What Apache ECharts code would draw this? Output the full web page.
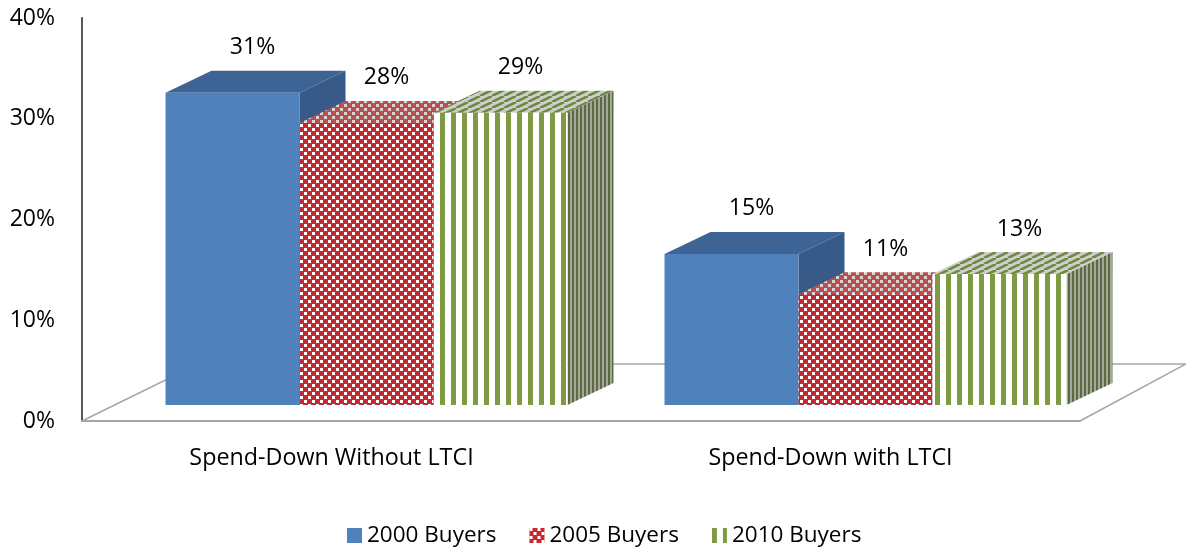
<!DOCTYPE html>
<html lang="en" style="height: 100%">

<head>
  <meta charset="utf-8" />
</head>

<body style="height: 100%; margin: 0">
  <div id="container" style="height: 548px; width: 1186px;"></div>

  <script type="text/javascript" src="https://cdn.jsdelivr.net/npm/echarts@6/dist/echarts.min.js"></script>

  <script type="text/javascript">
    // data
    var categories = ['Spend-Down Without LTCI', 'Spend-Down with LTCI'];
    var seriesNames = ['2000 Buyers', '2005 Buyers', '2010 Buyers'];
    var buyers2000 = [31, 15];
    var buyers2005 = [28, 11];
    var buyers2010 = [29, 13];
    var yTicks = [0, 10, 20, 30, 40];

    var FONT = "'Open Sans', sans-serif";
    var DEPTH_X = 46, DEPTH_Y = -22;   // 3d depth offset
    var SHIFT_X = 35, SHIFT_Y = -16;   // front face offset from axis
    var BAR_RATIO = 0.2685;

    // pattern helpers
    function tile(w, h, draw) {
      var c = document.createElement('canvas');
      c.width = w; c.height = h;
      draw(c.getContext('2d'));
      return { image: c, repeat: 'repeat' };
    }
    function checker(bg, fg) {
      return tile(8, 8, function (ctx) {
        ctx.fillStyle = bg; ctx.fillRect(0, 0, 8, 8);
        ctx.fillStyle = fg;
        ctx.fillRect(0, 0, 3, 3);
        ctx.fillRect(4, 4, 3, 3);
      });
    }
    function vstripes(period, on, bg, fg) {
      return tile(period, 2, function (ctx) {
        ctx.fillStyle = bg; ctx.fillRect(0, 0, period, 2);
        ctx.fillStyle = fg; ctx.fillRect(0, 0, on, 2);
      });
    }
    function diagStripes(bg, fg) {
      return tile(12, 6, function (ctx) {
        ctx.fillStyle = bg; ctx.fillRect(0, 0, 12, 6);
        ctx.strokeStyle = fg; ctx.lineWidth = 2.6;
        [-12, 0, 12].forEach(function (k) {
          ctx.beginPath(); ctx.moveTo(k, 6); ctx.lineTo(k + 12, 0); ctx.stroke();
        });
      });
    }

    var faces = [
      { front: '#4f81bd', top: '#3e6395', side: '#385a89' },
      { front: checker('#c62a30', '#ffffff'), top: checker('#b85050', '#dcd4d4'), side: checker('#8e3a3a', '#b8b0b0') },
      { front: vstripes(11, 5, '#ffffff', '#7e9b44'), top: diagStripes('#cfcfcf', '#6f8a3e'), side: vstripes(4, 2, '#a4a79a', '#5c6a42') }
    ];

    function barRenderer(idx) {
      return function (params, api) {
        var val = api.value(1);
        var base = api.coord([api.value(0), 0]);
        var top = api.coord([api.value(0), val]);
        var band = api.size([1, 0])[0];
        var w = band * BAR_RATIO;
        var x0 = base[0] - 1.5 * w + idx * w + SHIFT_X;
        var yb = base[1] + SHIFT_Y;
        var yt = top[1] + SHIFT_Y;
        var f = faces[idx];
        return {
          type: 'group',
          children: [
            {
              type: 'polygon',
              shape: { points: [[x0 + w, yt], [x0 + w + DEPTH_X, yt + DEPTH_Y], [x0 + w + DEPTH_X, yb + DEPTH_Y], [x0 + w, yb]] },
              style: { fill: f.side }
            },
            {
              type: 'polygon',
              shape: { points: [[x0, yt], [x0 + DEPTH_X, yt + DEPTH_Y], [x0 + w + DEPTH_X, yt + DEPTH_Y], [x0 + w, yt]] },
              style: { fill: f.top }
            },
            {
              type: 'rect',
              shape: { x: x0, y: yt, width: w, height: yb - yt },
              style: { fill: f.front }
            },
            {
              type: 'text',
              x: x0 + w / 2 + DEPTH_X / 2 - 3,
              y: yt + DEPTH_Y - 23,
              style: {
                text: val + '%', fill: '#000', font: '23px ' + FONT,
                align: 'center', verticalAlign: 'middle'
              }
            }
          ]
        };
      };
    }

    function floorRenderer(params, api) {
      var cs = params.coordSys;
      var bl = [cs.x, cs.y + cs.height];
      var br = [cs.x + cs.width, cs.y + cs.height];
      var backY = bl[1] - 57;
      var lineStyle = { stroke: '#a6a6a6', lineWidth: 1.5, fill: null };
      return {
        type: 'group',
        children: [
          { type: 'polyline', shape: { points: [bl, [bl[0] + 116, backY], [br[0] + 106, backY], br] }, style: lineStyle }
        ]
      };
    }

    var dom = document.getElementById('container');
    var myChart = echarts.init(dom, null, { renderer: 'canvas' });

    var seriesData = [buyers2000, buyers2005, buyers2010];

    var option = {
      backgroundColor: '#ffffff',
      animation: false,
      grid: { left: 82, right: 106, top: 18, bottom: 127, containLabel: false },
      legend: {
        data: seriesNames.map(function (n, i) {
          return { name: n, itemStyle: { color: faces[i].front } };
        }),
        top: 519,
        left: 342,
        icon: 'rect',
        itemWidth: 15,
        itemHeight: 15,
        itemGap: 33,
        textStyle: { fontSize: 22.5, fontFamily: FONT, color: '#000' }
      },
      xAxis: {
        type: 'category',
        data: categories,
        axisLine: { lineStyle: { color: '#a6a6a6', width: 2 } },
        axisTick: { show: false },
        axisLabel: { margin: 26, fontSize: 23.3, fontFamily: FONT, color: '#000' }
      },
      yAxis: {
        type: 'value',
        min: yTicks[0],
        max: yTicks[yTicks.length - 1],
        interval: 10,
        axisLine: { show: true, lineStyle: { color: '#595959', width: 2 } },
        axisTick: { show: false },
        splitLine: { show: false },
        axisLabel: { margin: 27, fontSize: 23, fontFamily: FONT, color: '#000', formatter: '{value}%' }
      },
      series: [
        {
          name: 'floor', type: 'custom', renderItem: floorRenderer, silent: true, z: 1,
          data: [[0, 0]], encode: { x: 0, y: 1 }
        }
      ].concat(seriesNames.map(function (n, i) {
        return {
          name: n,
          type: 'custom',
          z: 2 + i,
          renderItem: barRenderer(i),
          itemStyle: { color: faces[i].front },
          encode: { x: 0, y: 1 },
          data: seriesData[i].map(function (v, c) { return [c, v]; })
        };
      }))
    };

    myChart.setOption(option);
    window.addEventListener('resize', myChart.resize);
  </script>
</body>

</html>
